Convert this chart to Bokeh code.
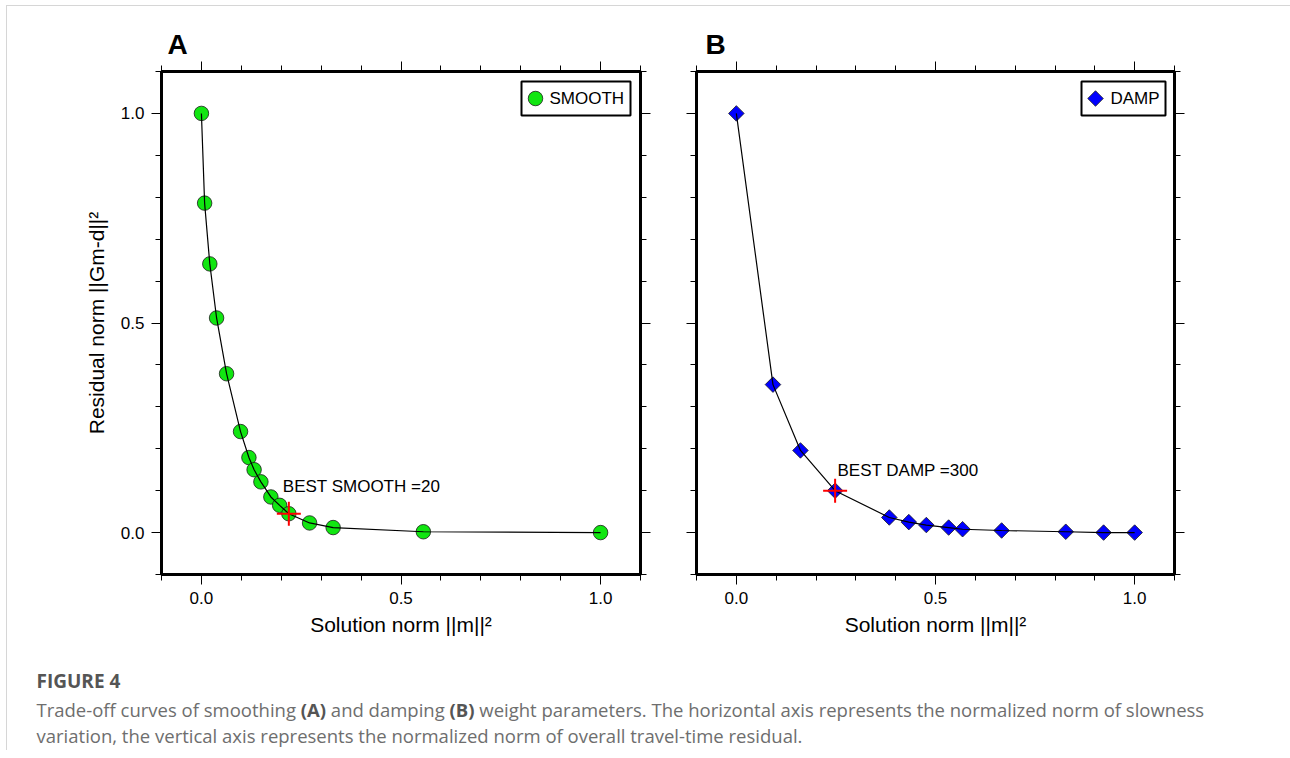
import os, glob, subprocess
from bokeh.plotting import figure
from bokeh.models import (Range1d, LinearAxis, FixedTicker, CustomLabelingPolicy)
from bokeh.layouts import row, column
from bokeh.embed import file_html
from bokeh.resources import INLINE
from bokeh.core.properties import value

# ---------------- data ----------------
smooth_x = [0.0, 0.008, 0.021, 0.038, 0.063, 0.098, 0.119, 0.132, 0.149, 0.174, 0.196, 0.219, 0.271, 0.330, 0.556, 1.0]
smooth_y = [1.0, 0.786, 0.641, 0.512, 0.379, 0.241, 0.179, 0.150, 0.121, 0.085, 0.065, 0.045, 0.023, 0.012, 0.002, 0.0]
damp_x = [0.0, 0.092, 0.161, 0.248, 0.384, 0.433, 0.477, 0.533, 0.568, 0.666, 0.827, 0.922, 1.0]
damp_y = [1.0, 0.353, 0.196, 0.100, 0.036, 0.025, 0.018, 0.012, 0.008, 0.005, 0.002, 0.0, 0.0]
best_smooth_index = 11
best_damp_index = 3
best_smooth_label = "BEST SMOOTH =20"
best_damp_label = "BEST DAMP =300"
legend_labels = ["SMOOTH", "DAMP"]
panel_letters = ["A", "B"]
tick_values = [0.0, 0.5, 1.0]
tick_labels = ["0.0", "0.5", "1.0"]
minor_tick_values = [-0.1, 0.1, 0.2, 0.3, 0.4, 0.6, 0.7, 0.8, 0.9, 1.1]
x_title = "Solution norm ||m||\u00b2"
y_title = "Residual norm ||Gm-d||\u00b2"
caption_title = "FIGURE 4"
caption_line1 = [("Trade-off curves of smoothing ", False), ("(A)", True), (" and damping ", False),
                 ("(B)", True), (" weight parameters. The horizontal axis represents the normalized norm of slowness", False)]
caption_line2 = [("variation, the vertical axis represents the normalized norm of overall travel-time residual.", False)]

FONT = "Liberation Sans"
CAP_FONT = "Open Sans"
CAP_SIZE = 18.5
FRAME_H = 503
X0, X1, Y0, Y1 = -0.1, 1.1, -0.1, 1.1


def style_axis(ax, labels):
    ax.ticker = FixedTicker(ticks=tick_values, minor_ticks=minor_tick_values)
    ax.axis_line_color = None
    ax.major_tick_out = 10
    ax.major_tick_in = 0
    ax.minor_tick_out = 6
    ax.minor_tick_in = 0
    ax.major_tick_line_color = "black"
    ax.minor_tick_line_color = "black"
    ax.major_tick_line_width = 1
    ax.minor_tick_line_width = 1
    ax.major_label_text_font = FONT
    ax.major_label_text_color = "black"
    ax.major_label_overrides = dict(zip(tick_values, tick_labels))
    if labels:
        ax.major_label_text_font_size = "17px"
        ax.major_label_standoff = 7
    else:
        ax.major_label_text_font_size = "1px"
        ax.major_label_standoff = 0
        ax.major_label_policy = CustomLabelingPolicy(code="return []")
    ax.axis_label_text_font = FONT
    ax.axis_label_text_font_style = "normal"
    ax.axis_label_text_font_size = "21px"
    ax.axis_label_text_color = "black"


def make_panel(xs, ys, best_i, best_text, text_x, text_y, letter, letter_off, legend_label,
               marker, msize, fill, angle, left_b, right_b, frame_w, ylabels, leg):
    p = figure(frame_width=frame_w, frame_height=FRAME_H,
               x_range=Range1d(X0, X1), y_range=Range1d(Y0, Y1),
               output_backend="svg", toolbar_location=None,
               min_border_left=left_b, min_border_right=right_b,
               min_border_top=65, min_border_bottom=84,
               background_fill_color="white", border_fill_color="white")
    p.grid.visible = False
    p.outline_line_color = "black"
    p.outline_line_width = 3
    style_axis(p.xaxis[0], True)
    style_axis(p.yaxis[0], ylabels)
    p.xaxis[0].axis_label = x_title
    p.xaxis[0].axis_label_standoff = 6
    if ylabels:
        p.yaxis[0].axis_label = y_title
        p.yaxis[0].axis_label_standoff = 10
    top = LinearAxis()
    style_axis(top, False)
    p.add_layout(top, "above")
    right = LinearAxis()
    style_axis(right, False)
    p.add_layout(right, "right")

    # panel letter as title
    p.title.text = letter
    p.title.text_font = FONT
    p.title.text_font_size = "28px"
    p.title.text_font_style = "bold"
    p.title.text_color = "black"
    p.title.align = "left"
    p.title.offset = letter_off
    p.title.standoff = -4

    p.scatter(xs, ys, marker=marker, size=msize, angle=angle, fill_color=fill,
              line_color="#1a1a1a", line_width=0.8)
    p.line(xs, ys, line_color="black", line_width=1.2)
    p.scatter([xs[best_i]], [ys[best_i]], marker="cross", size=24,
              line_color="red", line_width=2)
    p.text(x=[text_x], y=[text_y], text=[best_text], text_font=value(FONT),
           text_font_size="17px", text_baseline="middle", text_align="left",
           text_color="black")

    # legend box drawn in frame, located by pixel offsets from the frame corner
    def px(dx, dy):
        return X0 + dx * (X1 - X0) / frame_w, Y1 - dy * (Y1 - Y0) / FRAME_H

    bx, by = px((leg["left"] + leg["right"]) / 2, 27)
    p.rect(x=[bx], y=[by], width=[leg["right"] - leg["left"]], height=[34],
           width_units="screen", height_units="screen",
           fill_color="white", line_color="black", line_width=2)
    mx, my = px(leg["marker"], 27)
    p.scatter([mx], [my], marker=marker, size=leg["msize"], angle=angle, fill_color=fill,
              line_color="#1a1a1a", line_width=0.8)
    tx, ty = px(leg["text"], 27)
    p.text(x=[tx], y=[ty], text=[legend_label], text_font=value(FONT),
           text_font_size="17px", text_baseline="middle", text_align="left",
           text_color="black")
    return p


pA = make_panel(smooth_x, smooth_y, best_smooth_index, best_smooth_label, 0.204, 0.109,
                panel_letters[0], 6, legend_labels[0], "circle", 14.5, "#11e611", 0,
                154, 28, 479, True,
                dict(left=360, right=469, marker=374, text=388, msize=14.5))
pB = make_panel(damp_x, damp_y, best_damp_index, best_damp_label, 0.254, 0.1485,
                panel_letters[1], 9, legend_labels[1], "square", 11, "#0000ff", 0.785398,
                28, 116, 478, False,
                dict(left=385, right=469, marker=399, text=414, msize=11))


# ---------------- caption ----------------
def font_file(family, bold):
    try:
        out = subprocess.run(["fc-match", "-f", "%{file}", family + (":bold" if bold else ":regular")],
                             capture_output=True, text=True, timeout=5).stdout.strip()
        if out and os.path.exists(out):
            return out
    except Exception:
        pass
    key = family.replace(" ", "").lower()
    files = glob.glob("/usr/share/fonts/**/*.*tf", recursive=True)
    for f in files:
        b = os.path.basename(f).lower().replace("-", "").replace("_", "")
        if key in b and (("bold" in b) == bold) and "italic" not in b:
            return f
    return None


def measurer(family, bold, size):
    try:
        from PIL import ImageFont
        path = font_file(family, bold)
        f = ImageFont.truetype(path, size)
        if bold:
            try:
                f.set_variation_by_name("Bold")
            except Exception:
                pass
        return lambda s: f.getlength(s)
    except Exception:
        k = 0.56 if bold else 0.53
        return lambda s: k * size * len(s)


meas = {False: measurer(CAP_FONT, False, CAP_SIZE), True: measurer(CAP_FONT, True, CAP_SIZE)}

CAP_W, CAP_H = 1283, 92
cap = figure(frame_width=CAP_W, frame_height=CAP_H, x_range=Range1d(0, CAP_W), y_range=Range1d(CAP_H, 0),
             output_backend="svg", toolbar_location=None, min_border=0,
             x_axis_location=None, y_axis_location=None, outline_line_color=None)
cap.grid.visible = False
cap.text(x=[29], y=[22], text=[caption_title], text_font=value(CAP_FONT), text_font_size="19px",
         text_font_style="bold", text_color="#555555", text_baseline="middle")

for line, ypos in ((caption_line1, 51), (caption_line2, 77)):
    x = 29.0
    for seg, bold in line:
        lead = len(seg) - len(seg.lstrip(" "))
        xi = x + meas[bold](seg[:lead])
        st = "bold" if bold else "normal"
        cap.text(x=[xi], y=[ypos], text=[seg.strip(" ")], text_font=value(CAP_FONT),
                 text_font_size=f"{CAP_SIZE}px", text_font_style=st,
                 text_color="#555555" if bold else "#6e6e6e", text_baseline="middle")
        x += meas[bold](seg)

layout = column(row(pA, pB), cap, margin=(5, 0, 0, 6),
                styles={"border-top": "1px solid #d6d6d6", "border-left": "1px solid #d6d6d6"})
open("out.html", "w").write(file_html(layout, INLINE))
